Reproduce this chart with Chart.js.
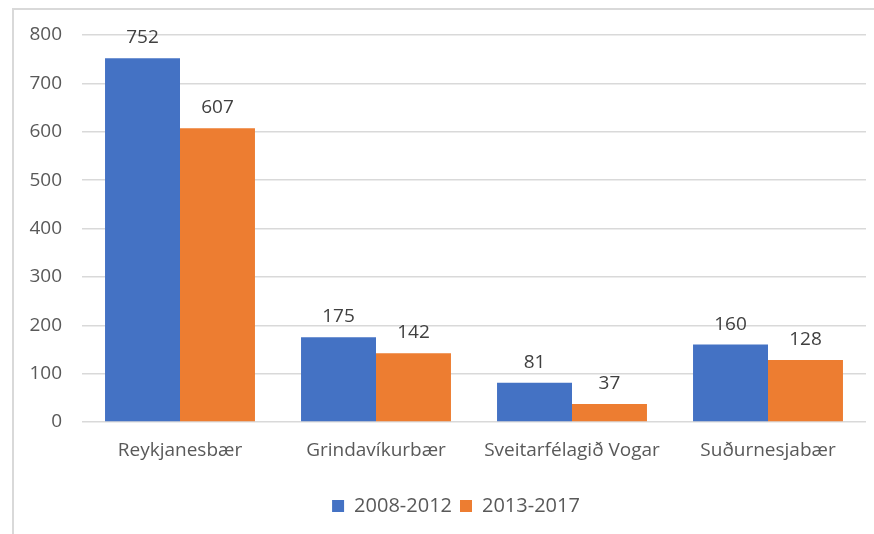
<!DOCTYPE html>
<html>
<head>
<meta charset="utf-8">
<script src="https://cdn.jsdelivr.net/npm/chart.js@4"></script>
<style>
  html, body { margin: 0; padding: 0; background: #fff; }
  #frame {
    position: absolute; left: 12px; top: 8px; width: 880px; height: 540px;
    border-top: 2px solid #d9d9d9; border-left: 2px solid #d9d9d9;
  }
  #wrap { position: absolute; left: 0; top: 0; width: 874px; height: 534px; }
</style>
</head>
<body>
<div id="frame"></div>
<div id="wrap"><canvas id="chart"></canvas></div>
<script>
// Sveitarfélög á Suðurnesjum, tvö tímabil
const categories = ['Reykjanesbær', 'Grindavíkurbær', 'Sveitarfélagið Vogar', 'Suðurnesjabær'];
const seriesNames = ['2008-2012', '2013-2017'];
const values2008 = [752, 175, 81, 160];
const values2013 = [607, 142, 37, 128];
const yTicks = [0, 100, 200, 300, 400, 500, 600, 700, 800];

const blue = '#4472c4';
const orange = '#ed7d31';

// Talgildi fyrir ofan hverja súlu
const valueLabels = {
    id: 'valueLabels',
    afterDatasetsDraw(chart) {
        const ctx = chart.ctx;
        ctx.save();
        ctx.font = '19px "Open Sans"';
        ctx.fillStyle = '#404040';
        ctx.textAlign = 'center';
        ctx.textBaseline = 'alphabetic';
        chart.data.datasets.forEach((ds, i) => {
            chart.getDatasetMeta(i).data.forEach((bar, j) => {
                ctx.fillText(ds.data[j], bar.x, bar.y - 15);
            });
        });
        ctx.restore();
    }
};

// Skýringin situr aðeins hægra megin við miðju í frumritinu
const shiftLegend = {
    id: 'shiftLegend',
    afterLayout(chart) {
        chart.legend.left += 46;
    }
};

Chart.defaults.font.family = '"Open Sans"';
Chart.defaults.font.size = 19;
Chart.defaults.color = '#595959';

new Chart(document.querySelector('#chart'), {
    type: 'bar',
    data: {
        labels: categories,
        datasets: [{
            label: seriesNames[0],
            data: values2008,
            backgroundColor: blue,
            borderWidth: 0
        }, {
            label: seriesNames[1],
            data: values2013,
            backgroundColor: orange,
            borderWidth: 0
        }]
    },
    options: {
        responsive: true,
        maintainAspectRatio: false,
        animation: false,
        categoryPercentage: 0.765,
        barPercentage: 1,
        layout: {
            padding: { left: 0, top: 35, right: 8, bottom: 8 }
        },
        scales: {
            y: {
                min: 0,
                max: 800,
                afterBuildTicks: s => { s.ticks = yTicks.map(v => ({ value: v })); },
                afterFit: s => { s.width = 82; },
                border: { display: false },
                grid: { color: '#d9d9d9', lineWidth: 1.5, drawTicks: false },
                ticks: { padding: 20 }
            },
            x: {
                afterFit: s => { s.height = 66; },
                border: { display: false },
                grid: { display: false, drawTicks: false },
                ticks: { padding: 17 }
            }
        },
        plugins: {
            legend: {
                position: 'bottom',
                labels: {
                    boxWidth: 12,
                    boxHeight: 12,
                    padding: 8,
                    font: { size: 20 }
                }
            },
            tooltip: { enabled: false }
        }
    },
    plugins: [valueLabels, shiftLegend]
});
</script>
</body>
</html>
